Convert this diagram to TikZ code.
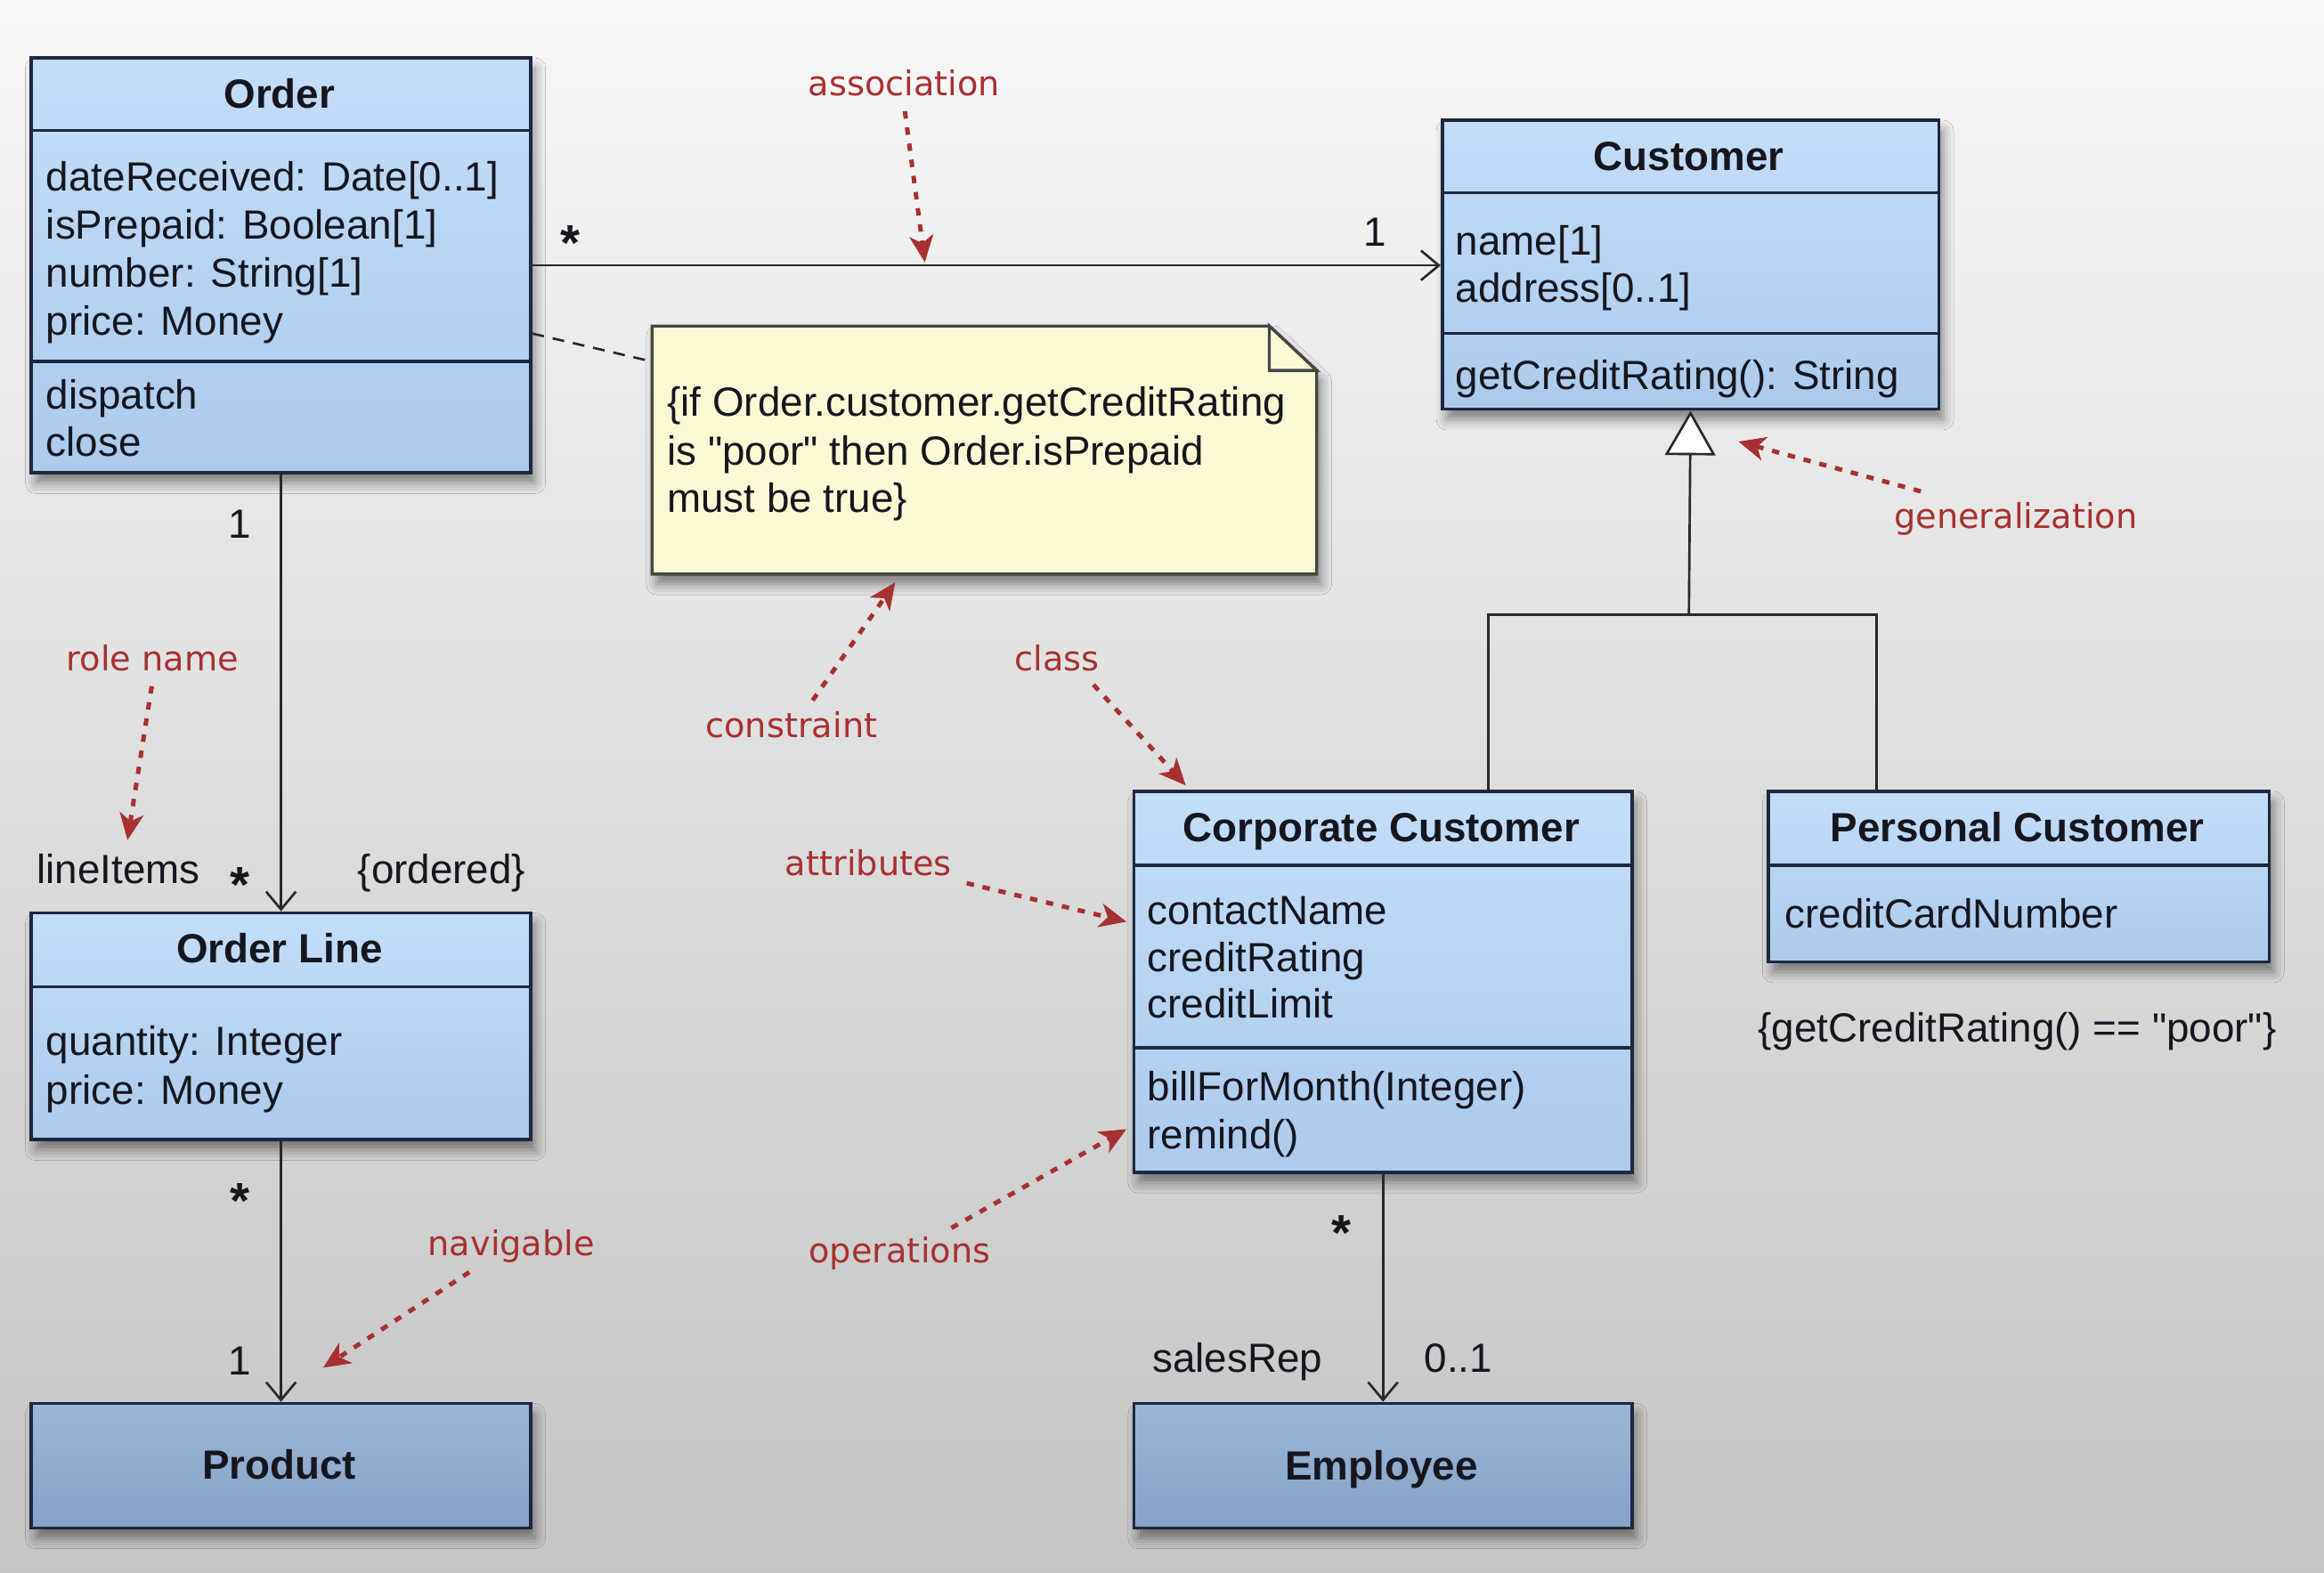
\documentclass[tikz,border=0pt]{standalone}
\usepackage{fontspec}
\setmainfont{Liberation Sans}[Ligatures=TeXOff]
\newfontfamily\redfont{DejaVu Sans}
\usetikzlibrary{arrows.meta,shadows.blur}
\definecolor{boxtop}{RGB}{196,222,249}
\definecolor{boxbot}{RGB}{172,202,236}
\definecolor{dtop}{RGB}{154,182,216}
\definecolor{dbot}{RGB}{134,162,198}
\definecolor{boxc}{RGB}{30,40,62}
\definecolor{txtc}{RGB}{22,22,30}
\definecolor{linec}{RGB}{40,40,40}
\definecolor{redc}{RGB}{168,48,48}
\definecolor{notec}{RGB}{251,249,212}
\definecolor{notebd}{RGB}{70,70,70}
\tikzset{
  txt/.style={font=\fontsize{27.5}{32}\selectfont, text=txtc, inner sep=0pt, anchor=base west},
  hdr/.style={font=\fontsize{27.5}{32}\selectfont\bfseries, text=txtc, inner sep=0pt, anchor=base},
  mult/.style={font=\fontsize{27.5}{32}\selectfont, text=txtc, inner sep=0pt, anchor=base},
  star/.style={font=\fontsize{34}{34}\selectfont\bfseries, text=txtc, inner sep=0pt, anchor=base},
  myshadow/.style={blur shadow={shadow xshift=3pt, shadow yshift=-7pt, shadow blur radius=7pt, shadow opacity=45}},
  classbox/.style={draw=boxc, line width=2.2pt, top color=boxtop, bottom color=boxbot, myshadow, inner sep=0pt, anchor=north west},
  darkbox/.style={classbox, top color=dtop, bottom color=dbot},
  sepline/.style={draw=boxc, line width=2pt},
  link/.style={draw=linec, line width=1.6pt},
  navlink/.style={link, -{Straight Barb[length=12pt,width=20pt,line width=1.6pt]}},
  genlink/.style={link, -{Triangle[open, length=30pt, width=34pt, line width=1.6pt, fill=white]}},
  redlbl/.style={font=\redfont\fontsize{23}{26}\selectfont, text=redc, inner sep=0pt},
  redarr/.style={draw=redc, line width=3pt, dash pattern=on 5pt off 6pt, -{Stealth[length=18pt,width=16pt,inset=5pt]}, shorten <=4pt},
  notefill/.style={fill=notec, draw=notebd, line width=2pt, myshadow},
  dashl/.style={draw=linec, line width=1.6pt, dash pattern=on 8pt off 6pt},
}
\begin{document}
\begin{tikzpicture}[x=1pt,y=-1pt]
\useasboundingbox (0,0) rectangle (1568,1061);
\shade[top color=black!3, middle color=white, bottom color=black!23] (0,0) rectangle (1568,1061);

% ---------- Order ----------
\node[classbox, minimum width=337pt, minimum height=280pt] (order) at (20,38) {};
\draw[sepline] (20,88) -- (357,88);
\draw[sepline] (20,244) -- (357,244);
\node[hdr] (ordert) at (188.5,73) {Order};
\node[txt] (oa1) at (31,129) {dateReceived: Date[0..1]};
\node[txt] (oa2) at (31,161) {isPrepaid: Boolean[1]};
\node[txt] (oa3) at (31,194) {number: String[1]};
\node[txt] (oa4) at (31,226) {price: Money};
\node[txt] (oo1) at (31,276) {dispatch};
\node[txt] (oo2) at (31,308) {close};

% ---------- Customer ----------
\node[classbox, minimum width=335pt, minimum height=195pt] (cust) at (972,80) {};
\draw[sepline] (972,130) -- (1307,130);
\draw[sepline] (972,225) -- (1307,225);
\node[hdr] (custt) at (1139.5,115) {Customer};
\node[txt] (ca1) at (982,172) {name[1]};
\node[txt] (ca2) at (982,204) {address[0..1]};
\node[txt] (co1) at (982,263) {getCreditRating(): String};

% ---------- Note ----------
\node[draw=none, minimum width=448pt, minimum height=167pt, inner sep=0pt, anchor=north west] (note) at (440,220) {};
\path[notefill] (note.north west) -- ([xshift=-32pt]note.north east) -- ([yshift=-30pt]note.north east) -- (note.south east) -- (note.south west) -- cycle;
\draw[draw=notebd, line width=2pt, fill=notec] ([xshift=-32pt]note.north east) -- ([xshift=-32pt,yshift=-30pt]note.north east) -- ([yshift=-30pt]note.north east) -- cycle;
\node[txt] (n1) at (450,281) {\{if Order.customer.getCreditRating};
\node[txt] (n2) at (450,314) {is "poor" then Order.isPrepaid};
\node[txt] (n3) at (450,346) {must be true\}};
\draw[dashl] ([yshift=-46pt]order.east) -- ([yshift=-24pt]note.north west);

% ---------- Order Line ----------
\node[classbox, minimum width=337pt, minimum height=153pt] (oline) at (20,615) {};
\draw[sepline] (20,666) -- (357,666);
\node[hdr] (olinet) at (188.5,650) {Order Line};
\node[txt] (la1) at (31,712) {quantity: Integer};
\node[txt] (la2) at (31,745) {price: Money};

% ---------- Product ----------
\node[darkbox, minimum width=337pt, minimum height=84pt] (product) at (20,946) {};
\node[hdr] (productt) at (188.5,998) {Product};

% ---------- Corporate Customer ----------
\node[classbox, minimum width=336pt, minimum height=257pt] (corp) at (764,533) {};
\draw[sepline] (764,584) -- (1100,584);
\draw[sepline] (764,707) -- (1100,707);
\node[hdr] (corpt) at (932,568) {Corporate Customer};
\node[txt] (pa1) at (774,624) {contactName};
\node[txt] (pa2) at (774,656) {creditRating};
\node[txt] (pa3) at (774,687) {creditLimit};
\node[txt] (po1) at (774,743) {billForMonth(Integer)};
\node[txt] (po2) at (774,775) {remind()};

% ---------- Personal Customer ----------
\node[classbox, minimum width=338pt, minimum height=115pt] (pers) at (1192,533) {};
\draw[sepline] (1192,584) -- (1530,584);
\node[hdr] (perst) at (1361,568) {Personal Customer};
\node[txt] (ra1) at (1204,626) {creditCardNumber};
\node[mult] (perscons) at (1361,703) {\{getCreditRating() == "poor"\}};

% ---------- Employee ----------
\node[darkbox, minimum width=336pt, minimum height=84pt] (emp) at (764,946) {};
\node[hdr] (empt) at (932,999) {Employee};

% ---------- Connectors ----------
\draw[navlink] (order.east) -- (order.east -| cust.west);
\node[star] (m1) at (385,176) {*};
\node[mult] (m2) at (928,166) {1};

\draw[navlink] (order.south) -- (oline.north);
\node[mult] (m3) at (162,363) {1};
\node[mult] (m4) at (80,596) {lineItems};
\node[star] (m5) at (162,609) {*};
\node[mult] (m6) at (298,596) {\{ordered\}};

\draw[navlink] (oline.south) -- (product.north);
\node[star] (m7) at (162,822) {*};
\node[mult] (m8) at (162,928) {1};

\draw[navlink] (corp.south) -- (emp.north);
\node[star] (m9) at (905,844) {*};
\node[mult] (m10) at (835,926) {salesRep};
\node[mult] (m11) at (984,926) {0..1};

\coordinate (gj) at (1139.5,415);
\draw[link] ([xshift=71pt]corp.north) |- (gj) -| ([xshift=-96pt]pers.north);
\draw[genlink] (gj) -- (cust.south);

% ---------- Red annotations ----------
\node[redlbl] (lassoc) at (610,56) {association};
\node[redlbl] (lgen) at (1360,350) {generalization};
\node[redlbl] (lrole) at (103,444) {role name};
\node[redlbl] (lcons) at (534,489) {constraint};
\node[redlbl] (lclass) at (713,444) {class};
\node[redlbl] (lattr) at (586,582) {attributes};
\node[redlbl] (lops) at (607,846) {operations};
\node[redlbl] (lnav) at (345,841) {navigable};

\coordinate (assoctip) at (624,177);
\coordinate (gentip) at (1173,298);
\coordinate (roletip) at (86,567);
\coordinate (constip) at (604,393);
\coordinate (classtip) at (800,530);
\coordinate (attrtip) at (760,622);
\coordinate (opstip) at (760,762);
\coordinate (navtip) at (218,923);

\draw[redarr] ([yshift=-6pt]lassoc.south) -- (assoctip);
\draw[redarr] ([xshift=22pt,yshift=6pt]lgen.north west) -- (gentip);
\draw[redarr] ([yshift=-6pt]lrole.south) -- (roletip);
\draw[redarr] ([xshift=12pt,yshift=4pt]lcons.north) -- (constip);
\draw[redarr] ([xshift=22pt,yshift=-6pt]lclass.south) -- (classtip);
\draw[redarr] ([xshift=6pt,yshift=-4pt]lattr.south east) -- (attrtip);
\draw[redarr] ([xshift=-30pt,yshift=4pt]lops.north east) -- (opstip);
\draw[redarr] ([xshift=-25pt,yshift=-4pt]lnav.south) -- (navtip);
\end{tikzpicture}
\end{document}
